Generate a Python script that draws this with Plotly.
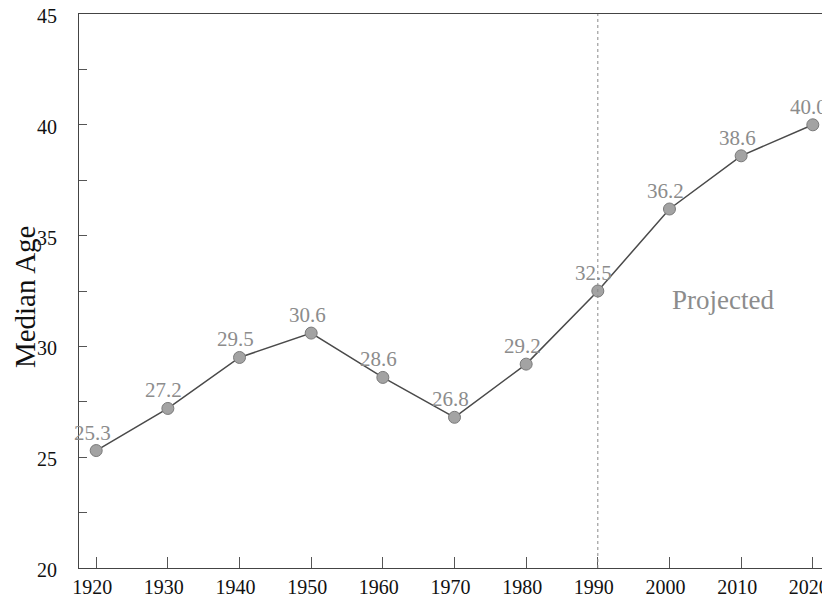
import plotly.graph_objects as go

years = [1920, 1930, 1940, 1950, 1960, 1970, 1980, 1990, 2000, 2010, 2020]
median_age = [25.3, 27.2, 29.5, 30.6, 28.6, 26.8, 29.2, 32.5, 36.2, 38.6, 40.0]
labels = [f"{v:.1f}" for v in median_age]
projection_start = 1990

SERIF = "Liberation Serif, Times New Roman, serif"
LABEL_GREY = "#8c8c8c"

fig = go.Figure()

fig.add_trace(
    go.Scatter(
        x=years,
        y=median_age,
        mode="lines+markers",
        line=dict(color="#4a4a4a", width=1.5),
        marker=dict(size=12, color="#a3a3a3", line=dict(width=1, color="#7a7a7a")),
        cliponaxis=False,
        hoverinfo="x+y",
    )
)

# value labels, nudged a little left like the original
for yr, val, txt in zip(years, median_age, labels):
    fig.add_annotation(
        x=yr, y=val, text=txt,
        showarrow=False,
        xanchor="center", yanchor="bottom",
        xshift=-4, yshift=4,
        font=dict(family=SERIF, size=21, color=LABEL_GREY),
    )

# dashed marker for where the projection begins
fig.add_shape(
    type="line",
    x0=projection_start, x1=projection_start,
    y0=0, y1=1, yref="paper",
    line=dict(color="#8a8a8a", width=1, dash="3px,3px"),
)
fig.add_annotation(
    x=2007.5, y=32.1,
    text="Projected",
    showarrow=False,
    font=dict(family=SERIF, size=27, color=LABEL_GREY),
)

# axis title placed by hand so it sits clear of the tick labels
fig.add_annotation(
    xref="paper", yref="paper",
    x=0, y=0.489,
    xanchor="center", yanchor="middle",
    xshift=-54,
    text="Median Age",
    textangle=-90,
    showarrow=False,
    font=dict(family=SERIF, size=29, color="#111111"),
)

# the page body adds an 8px margin, so the figure is sized to fit inside it
fig.update_layout(
    width=822,
    height=590,
    margin=dict(l=71, r=0, t=6, b=30),
    paper_bgcolor="white",
    plot_bgcolor="white",
    font=dict(family=SERIF, size=20, color="#111111"),
    showlegend=False,
    xaxis=dict(
        range=[1917.6, 2022.4],
        tickvals=years,
        ticks="inside",
        ticklen=11,
        tickcolor="#555555",
        showline=True,
        linecolor="#444444",
        linewidth=1,
        mirror=True,
        showgrid=False,
        zeroline=False,
        automargin=False,
        ticklabeloverflow="allow",
        ticklabelstandoff=1,
        ticklabelshift=-4,
        tickfont=dict(family=SERIF, size=20, color="#111111"),
    ),
    yaxis=dict(
        range=[20, 45],
        tickvals=[20, 25, 30, 35, 40, 45],
        ticks="inside",
        ticklen=8,
        tickcolor="#555555",
        minor=dict(tickvals=[22.5, 27.5, 32.5, 37.5, 42.5], ticks="inside", ticklen=8, tickcolor="#555555"),
        showline=True,
        linecolor="#444444",
        linewidth=1,
        showgrid=False,
        zeroline=False,
        automargin=False,
        ticklabeloverflow="allow",
        ticklabelstandoff=17,
        ticklabelshift=2,
        tickfont=dict(family=SERIF, size=20, color="#111111"),
    ),
)

fig.write_html("out.html")
